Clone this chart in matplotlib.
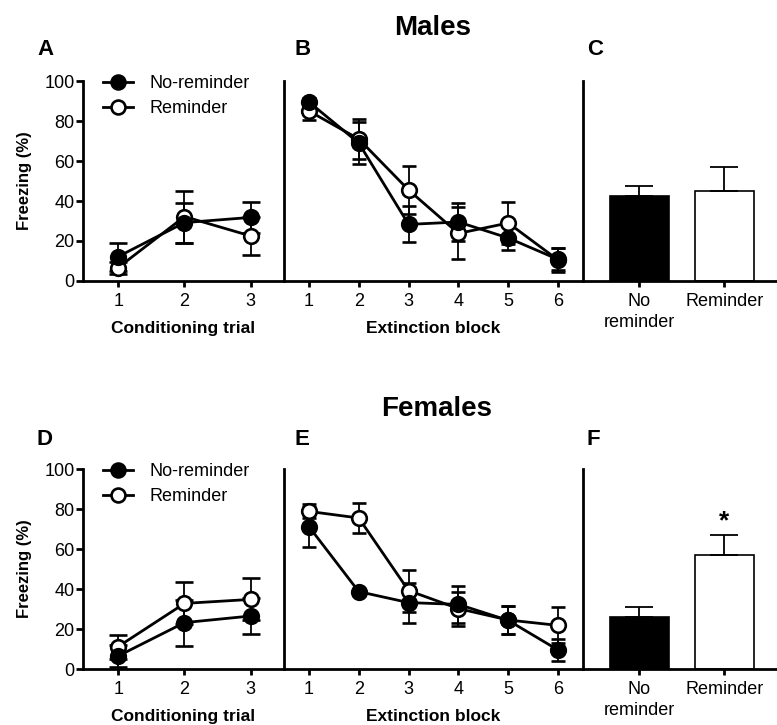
import matplotlib
matplotlib.use("Agg")
import matplotlib.pyplot as plt
from matplotlib.lines import Line2D

plt.rcParams['font.family'] = ['Liberation Sans', 'DejaVu Sans']

# data (mean, SEM)
trials = [1, 2, 3]
blocks = [1, 2, 3, 4, 5, 6]
groups = ['No\nreminder', 'Reminder']

# Males
m_cond_nr = [12.2, 29.2, 31.8]
m_cond_nr_sem = [7.0, 10.0, 7.8]
m_cond_r = [6.7, 32.2, 22.5]
m_cond_r_sem = [3.0, 13.0, 9.5]
m_ext_nr = [89.5, 69.0, 28.3, 29.5, 21.5, 10.8]
m_ext_nr_sem = [2.0, 10.5, 9.0, 9.5, 6.0, 5.5]
m_ext_r = [85.0, 71.0, 45.5, 23.8, 29.0, 10.5]
m_ext_r_sem = [4.5, 10.0, 12.0, 13.0, 10.5, 6.0]
m_bar = [42.3, 45.0]
m_bar_sem = [5.2, 12.0]

# Females
f_cond_nr = [6.5, 23.2, 26.5]
f_cond_nr_sem = [5.3, 11.5, 9.0]
f_cond_r = [11.2, 32.8, 34.8]
f_cond_r_sem = [6.0, 10.5, 10.5]
f_ext_nr = [71.2, 38.7, 33.2, 32.3, 24.3, 9.5]
f_ext_nr_sem = [10.0, 1.5, 10.0, 9.3, 7.0, 5.7]
f_ext_r = [78.8, 75.5, 39.2, 30.2, 24.5, 21.8]
f_ext_r_sem = [3.5, 7.5, 10.5, 8.5, 7.0, 9.0]
f_bar = [26.2, 56.8]
f_bar_sem = [4.6, 10.3]

W, H = 777, 725
fig = plt.figure(figsize=(W / 100, H / 100), dpi=100)


def add_ax(left, right, top, bottom):
    return fig.add_axes([left / W, 1 - bottom / H, (right - left) / W, (bottom - top) / H])


LW = 2.0
TICK_FS = 13


def style(ax, yticks=True):
    ax.set_ylim(0, 100)
    for s in ['top', 'right']:
        ax.spines[s].set_visible(False)
    for s in ['left', 'bottom']:
        ax.spines[s].set_linewidth(LW)
    ax.tick_params(axis='x', length=4.5, width=LW, labelsize=TICK_FS, pad=4.5)
    if yticks:
        ax.set_yticks([0, 20, 40, 60, 80, 100])
        ax.tick_params(axis='y', length=5, width=LW, labelsize=TICK_FS, pad=1)
        ax.set_ylabel('Freezing (%)', fontsize=12, fontweight='bold', labelpad=9)
    else:
        ax.set_yticks([])
    ax.patch.set_alpha(0)


def lines(ax, x, nr, nr_sem, r, r_sem, cap):
    kw = dict(color='black', lw=LW, ms=10.5, mew=1.9, capsize=cap,
              elinewidth=1.3, capthick=1.3, clip_on=False)
    ax.errorbar(x, r, yerr=r_sem, marker='o', mfc='white', mec='black', **kw)
    ax.errorbar(x, nr, yerr=nr_sem, marker='o', mfc='black', mec='black', **kw)


def bars(ax, vals, sems):
    ax.bar([0, 1], vals, width=0.69, color=['black', 'white'], edgecolor='black',
           linewidth=1.2, yerr=[[0, 0], sems],
           error_kw=dict(ecolor='black', elinewidth=1.3, capsize=10, capthick=1.3))
    ax.set_xlim(-0.66, 1.62)
    ax.set_xticks([0, 1])
    ax.set_xticklabels(groups, linespacing=1.3)


rows = [
    (81, 281, 'Males', 433, 35, 55, ['A', 'B', 'C'],
     m_cond_nr, m_cond_nr_sem, m_cond_r, m_cond_r_sem,
     m_ext_nr, m_ext_nr_sem, m_ext_r, m_ext_r_sem, m_bar, m_bar_sem),
    (469, 669, 'Females', 437, 416, 445, ['D', 'E', 'F'],
     f_cond_nr, f_cond_nr_sem, f_cond_r, f_cond_r_sem,
     f_ext_nr, f_ext_nr_sem, f_ext_r, f_ext_r_sem, f_bar, f_bar_sem),
]

for (top, bot, title, tx, ty, ly, letters,
     cnr, cnrs, cr, crs, enr, enrs, er, ers, bv, bs) in rows:
    a = add_ax(83, 284, top, bot)
    b = add_ax(284, 583, top, bot)
    c = add_ax(583, 777, top, bot)

    style(a)
    lines(a, trials, cnr, cnrs, cr, crs, 6.5)
    a.set_xlim(0.47, 3.5)
    a.set_xticks(trials)
    a.set_xlabel('Conditioning trial', fontsize=12.5, fontweight='bold', labelpad=7.5)

    style(b, yticks=False)
    lines(b, blocks, enr, enrs, er, ers, 5)
    b.set_xlim(0.5, 6.5)
    b.set_xticks(blocks)
    b.set_xlabel('Extinction block', fontsize=12.5, fontweight='bold', labelpad=7.5)

    style(c, yticks=False)
    bars(c, bv, bs)

    handles = [
        Line2D([], [], color='black', lw=LW, marker='o', ms=10, mew=1.9,
               mfc='black', mec='black'),
        Line2D([], [], color='black', lw=LW, marker='o', ms=10, mew=1.9,
               mfc='white', mec='black'),
    ]
    a.legend(handles, ['No-reminder', 'Reminder'], loc='upper left',
             bbox_to_anchor=(0.1, 1.03), frameon=False, fontsize=13,
             handlelength=1.65, handletextpad=0.9, labelspacing=0.45,
             borderpad=0, borderaxespad=0)

    fig.text(tx / W, 1 - ty / H, title, ha='center', va='baseline',
             fontsize=20, fontweight='bold')
    for lx, letter in zip([37, 294, 587], letters):
        fig.text(lx / W, 1 - ly / H, letter, ha='left', va='baseline',
                 fontsize=16, fontweight='bold')

    if title == 'Females':
        c.text(1, 74, '*', ha='center', va='center', fontsize=19, fontweight='bold')

fig.savefig('out.png', dpi=100)
